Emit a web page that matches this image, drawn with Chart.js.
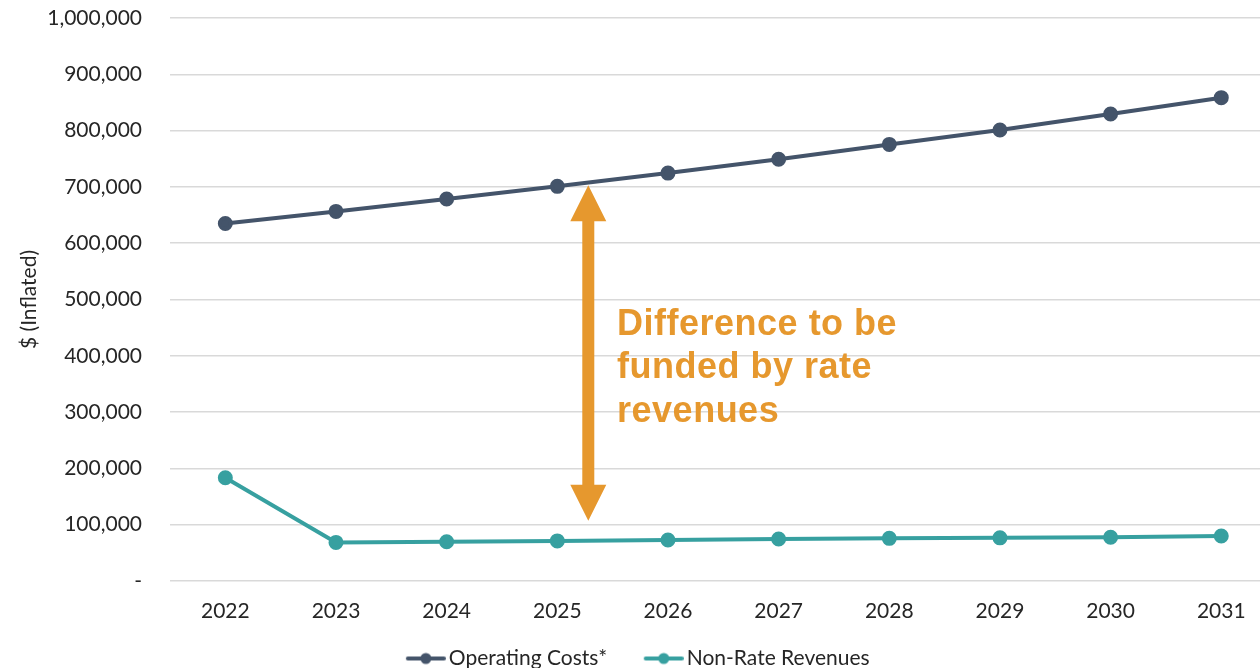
<!DOCTYPE html>
<html>
<head>
<meta charset="utf-8">
<script src="https://cdn.jsdelivr.net/npm/chart.js@4/dist/chart.umd.min.js"></script>
<style>
  html, body { margin: 0; padding: 0; background: #fff; }
  #wrap { width: 1260px; height: 668px; }
</style>
</head>
<body>
<div id="wrap"><canvas id="myChart" width="1260" height="668"></canvas></div>
<script>
// data
var years = [2022, 2023, 2024, 2025, 2026, 2027, 2028, 2029, 2030, 2031];
var operatingCosts = [635000, 656500, 678500, 701000, 724500, 749000, 775500, 801000, 829500, 858500];
var nonRateRevenues = [183500, 68600, 69800, 71200, 72800, 74500, 75800, 76600, 77800, 80000];
var yTicks = [0, 100000, 200000, 300000, 400000, 500000, 600000, 700000, 800000, 900000, 1000000];
var noteLines = ["Difference to be", "funded by rate", "revenues"];

var slate = "#44546A", teal = "#37A0A0", orange = "#E6982E";
var fontName = "Lato, 'Open Sans', sans-serif";

function xy(vals) {
  var out = [];
  for (var i = 0; i < years.length; ++i) out.push({ x: years[i], y: vals[i] });
  return out;
}

// legend marker: short line with a dot, drawn in the right part of a wider image
function lineMarker(color) {
  var c = document.createElement("canvas");
  c.width = 63; c.height = 14;
  var g = c.getContext("2d");
  g.strokeStyle = color; g.lineWidth = 4; g.lineCap = "round";
  g.beginPath(); g.moveTo(25, 7); g.lineTo(61, 7); g.stroke();
  g.fillStyle = color;
  g.beginPath(); g.arc(43, 7, 5.5, 0, Math.PI * 2); g.fill();
  return c;
}
var legendMarkers = [lineMarker(slate), lineMarker(teal)];

// double arrow + note
var arrowNote = {
  id: "arrowNote",
  afterDatasetsDraw: function(chart) {
    var ctx = chart.ctx, xs = chart.scales.x, ys = chart.scales.y;
    var ax = xs.getPixelForValue(2025.28);
    var top = ys.getPixelForValue(703000), bot = ys.getPixelForValue(107000);
    var headH = 36, headW = 18, shaft = 6;
    ctx.save();
    ctx.fillStyle = orange;
    ctx.beginPath();
    ctx.moveTo(ax, top);
    ctx.lineTo(ax + headW, top + headH);
    ctx.lineTo(ax + shaft, top + headH);
    ctx.lineTo(ax + shaft, bot - headH);
    ctx.lineTo(ax + headW, bot - headH);
    ctx.lineTo(ax, bot);
    ctx.lineTo(ax - headW, bot - headH);
    ctx.lineTo(ax - shaft, bot - headH);
    ctx.lineTo(ax - shaft, top + headH);
    ctx.lineTo(ax - headW, top + headH);
    ctx.closePath();
    ctx.fill();

    ctx.font = "bold 36px 'Liberation Sans', Arial, sans-serif";
    ctx.letterSpacing = "0.5px";
    ctx.textBaseline = "alphabetic";
    ctx.textAlign = "left";
    var tx = xs.getPixelForValue(2025.54);
    var by = ys.getPixelForValue(437000);
    for (var i = 0; i < noteLines.length; ++i) {
      ctx.fillText(noteLines[i], tx, by + i * 43.5);
    }
    ctx.restore();
  }
};

var ctx = document.getElementById("myChart").getContext("2d");
var myChart = new Chart(ctx, {
  type: "line",
  data: {
    datasets: [
      { label: "Operating Costs*", data: xy(operatingCosts), borderColor: slate, backgroundColor: slate,
        pointBackgroundColor: slate, pointBorderColor: slate, pointRadius: 5.5, borderWidth: 4 },
      { label: "Non-Rate Revenues", data: xy(nonRateRevenues), borderColor: teal, backgroundColor: teal,
        pointBackgroundColor: teal, pointBorderColor: teal, pointRadius: 5.5, borderWidth: 4 }
    ]
  },
  options: {
    responsive: false,
    animation: false,
    layout: { autoPadding: false, padding: { left: 0, top: 18, right: 0, bottom: -11 } },
    plugins: {
      tooltip: { enabled: false },
      legend: {
        position: "bottom",
        labels: {
          usePointStyle: true,
          pointStyleWidth: 48,
          boxHeight: 14,
          padding: 21,
          color: "#262626",
          font: { family: fontName, size: 21 },
          generateLabels: function(chart) {
            return chart.data.datasets.map(function(ds, i) {
              return { text: ds.label, pointStyle: legendMarkers[i], fillStyle: ds.borderColor,
                strokeStyle: ds.borderColor, lineWidth: 0, datasetIndex: i, hidden: false, fontColor: "#262626" };
            });
          }
        }
      }
    },
    scales: {
      x: {
        type: "linear",
        min: 2021.5,
        max: 2031.35,
        afterBuildTicks: function(scale) {
          scale.ticks = years.map(function(v) { return { value: v }; });
        },
        afterFit: function(scale) {
          scale.height = 46;
          scale.paddingLeft = 0; scale.paddingRight = 0;
        },
        grid: { display: false, drawTicks: false },
        border: { display: false },
        ticks: {
          padding: 18,
          color: "#262626",
          font: { family: fontName, size: 21 },
          callback: function(v) { return String(v); }
        }
      },
      y: {
        min: 0,
        max: 1000000,
        afterBuildTicks: function(scale) {
          scale.ticks = yTicks.map(function(v) { return { value: v }; });
        },
        afterFit: function(scale) {
          scale.width = 170;
          scale.paddingTop = 0; scale.paddingBottom = 0;
        },
        grid: { color: "#D9D9D9", lineWidth: 1.5, drawTicks: false },
        border: { display: false },
        title: {
          display: true,
          text: "$ (Inflated)",
          color: "#262626",
          font: { family: fontName, size: 21 },
          padding: { top: 17, bottom: 0 }
        },
        ticks: {
          padding: 28,
          color: "#262626",
          font: { family: fontName, size: 21 },
          callback: function(v) { return v === 0 ? "-" : v.toLocaleString("en-US"); }
        }
      }
    }
  },
  plugins: [arrowNote]
});
</script>
</body>
</html>
